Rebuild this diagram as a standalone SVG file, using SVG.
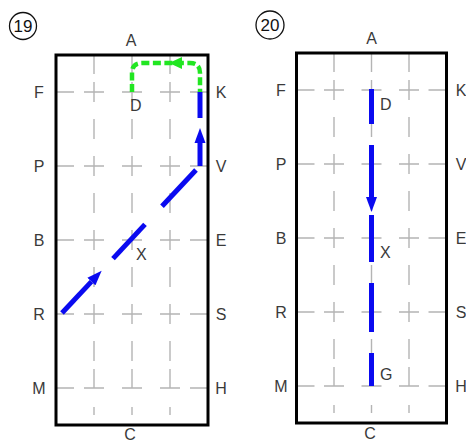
<svg xmlns="http://www.w3.org/2000/svg" width="466" height="442" viewBox="0 0 466 442">
<style>
.bg{fill:#fff}
.frame{fill:none;stroke:#000;stroke-width:3}
.gh{stroke:#b4b4b4;stroke-width:1.4;fill:none}
.gv{stroke:#b4b4b4;stroke-width:1.4;fill:none;stroke-dasharray:19 8 20 17 20 17 20 17 20 17 20 17 20 17 20 17 20 8 19}
.lbl{font-family:"Liberation Sans",Arial,sans-serif;font-size:16px;fill:#3a3a3a;text-anchor:middle}
.pt{font-family:"Liberation Sans",Arial,sans-serif;font-size:16px;fill:#3a3a3a}
.num{font-family:"Liberation Sans",Arial,sans-serif;font-size:17px;fill:#111;text-anchor:middle}
.circ{fill:none;stroke:#111;stroke-width:1.3}
.blue{stroke:#0a0af0;stroke-width:5;fill:none}
.green{stroke:#22e622;stroke-width:4.5;fill:none;stroke-dasharray:8 3.5}
</style>
<defs>
<marker id="ab" markerUnits="userSpaceOnUse" viewBox="0 -6 16 12" refX="0" refY="0" markerWidth="16" markerHeight="12" orient="auto">
<path d="M0,-5.5 L15,0 L0,5.5 z" fill="#0a0af0"/>
</marker>
<marker id="ag" markerUnits="userSpaceOnUse" viewBox="0 -7 15 14" refX="0" refY="0" markerWidth="15" markerHeight="14" orient="auto">
<path d="M0,-6 L13,0 L0,6 z" fill="#22e622"/>
</marker>
</defs>
<rect class="bg" x="0" y="0" width="466" height="442"/>

<g id="panel19">
<g id="grid19">
<path class="gh" style="stroke-dasharray:18 10 20 18 20 18 20 10 18" d="M56,92H208M56,166H208M56,240H208M56,314H208M56,388H208"/>
<path class="gv" d="M94,55V425M132,55V425M170,55V425"/>
<rect class="frame" x="56" y="55" width="152" height="370"/>
</g>
<g id="num19"><circle class="circ" cx="23" cy="26" r="13.5"/><text class="num" x="23" y="32">19</text></g>
<g id="labels19">
<text class="lbl" x="131" y="46">A</text>
<text class="lbl" x="130" y="440">C</text>
<text class="lbl" x="39" y="98">F</text>
<text class="lbl" x="39" y="172">P</text>
<text class="lbl" x="39" y="246">B</text>
<text class="lbl" x="39" y="320">R</text>
<text class="lbl" x="39" y="394">M</text>
<text class="lbl" x="221" y="98">K</text>
<text class="lbl" x="221" y="172">V</text>
<text class="lbl" x="221" y="246">E</text>
<text class="lbl" x="221" y="320">S</text>
<text class="lbl" x="221" y="394">H</text>
<text class="pt" x="130" y="111">D</text>
<text class="pt" x="136" y="260">X</text>
</g>
</g>

<g id="panel20">
<g id="grid20">
<path class="gh" style="stroke-dasharray:18 9.5 20 17.5 20 17.5 20 9.5 18" d="M296.5,90H446.5M296.5,164H446.5M296.5,238H446.5M296.5,312H446.5M296.5,386H446.5"/>
<path class="gv" d="M334,53V423M371.5,53V423M409,53V423"/>
<rect class="frame" x="296.5" y="53" width="150" height="370"/>
</g>
<g id="num20"><circle class="circ" cx="270" cy="25" r="14"/><text class="num" x="270" y="31">20</text></g>
<g id="labels20">
<text class="lbl" x="371.5" y="44">A</text>
<text class="lbl" x="370" y="439">C</text>
<text class="lbl" x="281" y="96">F</text>
<text class="lbl" x="281" y="170">P</text>
<text class="lbl" x="281" y="244">B</text>
<text class="lbl" x="281" y="318">R</text>
<text class="lbl" x="281" y="392">M</text>
<text class="lbl" x="461" y="96">K</text>
<text class="lbl" x="461" y="170">V</text>
<text class="lbl" x="461" y="244">E</text>
<text class="lbl" x="461" y="318">S</text>
<text class="lbl" x="461" y="392">H</text>
<text class="pt" x="380" y="110">D</text>
<text class="pt" x="380" y="258">X</text>
<text class="pt" x="380" y="380">G</text>
</g>
</g>

<g id="connectors">
<path class="green" d="M132,92V73Q132,63 142,63H190Q200,63 200,73V92"/>
<path d="M184,63H182" stroke="none" fill="none" marker-end="url(#ag)"/>
<path class="blue" d="M200,92V118"/>
<path class="blue" d="M200,166V143" marker-end="url(#ab)"/>
<path class="blue" d="M62,313L91.4,281.6" marker-end="url(#ab)"/>
<path class="blue" d="M113,258.6L145,224.4"/>
<path class="blue" d="M162,206.3L196,170"/>
<path class="blue" d="M371.5,89V124"/>
<path class="blue" d="M371.5,145V197" marker-end="url(#ab)"/>
<path class="blue" d="M371.5,215V262"/>
<path class="blue" d="M371.5,283V332"/>
<path class="blue" d="M371.5,353V386"/>
</g>
</svg>
